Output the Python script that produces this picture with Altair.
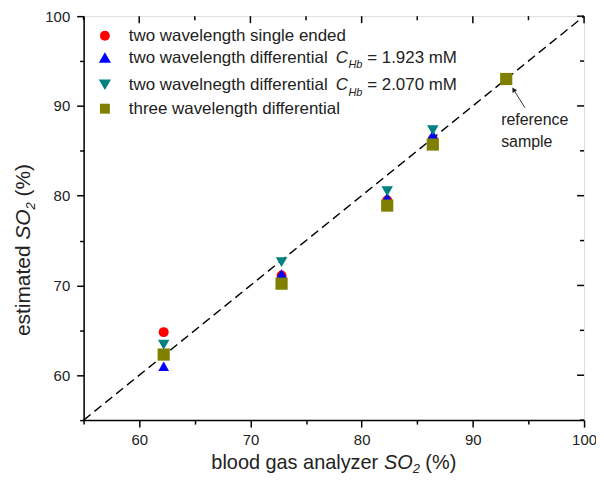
import altair as alt
import pandas as pd

# ---------------- data ----------------
blood_gas = [62.2, 72.8, 82.3, 86.4, 93.0]
single_ended = [64.8, 71.1, 79.5, 86.3, 93.0]
diff_1923 = [61.0, 71.3, 79.8, 86.8, 93.0]
diff_2070 = [63.4, 72.6, 80.5, 87.3, 93.0]
three_wl = [62.3, 70.2, 78.9, 85.7, 93.0]
series_names = ["single", "diff1923", "diff2070", "three"]
series_vals = [single_ended, diff_1923, diff_2070, three_wl]
colors = ["#ff0000", "#0000ff", "#008080", "#808000"]
shapes = ["circle", "triangle-up", "triangle-down", "square"]
sizes = [100, 150, 150, 100]
tick_values = list(range(55, 101, 5))
major_ticks = [v for v in tick_values if v % 10 == 0]
minor_ticks = [v for v in tick_values if v % 10 != 0]
identity = [55, 100]

W, H = 503, 406
SX = W / 507.0
TOP = 7
FONT = "Liberation Sans"
TXT = "#222222"

# Arial / Liberation Sans advance widths (per 1000 em)
AW = {" ": 278, "=": 584, ".": 278, "(": 333, ")": 333, "%": 889,
      "C": 722, "H": 722, "S": 667, "O": 778, "M": 833,
      "a": 556, "b": 556, "c": 500, "d": 556, "e": 556, "f": 278, "g": 556,
      "h": 556, "i": 222, "j": 222, "k": 500, "l": 222, "m": 833, "n": 556,
      "o": 556, "p": 556, "q": 556, "r": 333, "s": 500, "t": 278, "u": 556,
      "v": 500, "w": 722, "x": 500, "y": 500, "z": 500}
for d in "0123456789":
    AW[d] = 556


def tw(s, size):
    return sum(AW.get(ch, 556) for ch in s) * size / 1000.0


rows = []
for name, vals in zip(series_names, series_vals):
    for xv, yv in zip(blood_gas, vals):
        rows.append({"x": xv, "y": yv, "series": name})
pts = pd.DataFrame(rows)

xscale = alt.Scale(domain=[55, 100], nice=False, zero=False)
yscale = alt.Scale(domain=[55, 100], nice=False, zero=False)
tick_size = {"condition": {"test": "datum.value % 10 == 0", "value": 7}, "value": 4}
common_axis = dict(values=tick_values,
                   labelExpr="datum.value % 10 == 0 ? datum.label : ''",
                   title=None, grid=False, tickSize=tick_size, tickColor="black",
                   tickWidth=1.5, domainColor="black", domainWidth=1.5,
                   labelFont=FONT, labelFontSize=15, labelColor=TXT,
                   labelFlush=False, labelOverlap=False)
xaxis = alt.Axis(labelPadding=6, **common_axis)
yaxis = alt.Axis(labelPadding=7, **common_axis)


def X(f):
    return alt.X(f, type="quantitative", scale=xscale, axis=xaxis)


def Y(f):
    return alt.Y(f, type="quantitative", scale=yscale, axis=yaxis)


one = pd.DataFrame({"t": [""]})


def txt(s, px, py, size, italic=False, angle=0):
    return alt.Chart(pd.DataFrame({"t": [s]})).mark_text(
        align="left", baseline="middle", font=FONT, fontSize=size,
        fontStyle="italic" if italic else "normal", angle=angle, color=TXT
    ).encode(x=alt.value(px), y=alt.value(py), text="t:N")


layers = []

# identity line
layers.append(alt.Chart(pd.DataFrame({"v": identity})).mark_line(
    color="black", strokeDash=[9, 5], strokeWidth=1.4).encode(x=X("v"), y=Y("v")))

# data points
layers.append(alt.Chart(pts).mark_point(filled=True, opacity=1).encode(
    x=X("x"), y=Y("y"),
    color=alt.Color("series:N", scale=alt.Scale(domain=series_names, range=colors), legend=None),
    shape=alt.Shape("series:N", scale=alt.Scale(domain=series_names, range=shapes), legend=None),
    size=alt.Size("series:N", scale=alt.Scale(domain=series_names, range=sizes), legend=None),
))

# mirrored inward ticks on top and right
for vals, ln in ((major_ticks, 7), (minor_ticks, 4)):
    d = pd.DataFrame({"v": vals})
    layers.append(alt.Chart(d).mark_rule(color="black", strokeWidth=1.5).encode(
        x=X("v"), y=alt.value(0), y2=alt.value(ln)))
    layers.append(alt.Chart(d).mark_rule(color="black", strokeWidth=1.5).encode(
        y=Y("v"), x=alt.value(W), x2=alt.value(W - ln)))

# ---------------- legend (manual, for sub-scripts) ----------------
LX_SYM, LX_TXT, LFS, SFS = 21.4, 45.4, 17, 11
leg_y = [v - (TOP - 5) for v in [21.7, 43.6, 71.0, 95.0]]
for i in range(4):
    layers.append(alt.Chart(one).mark_point(
        shape=shapes[i], filled=True, opacity=1, size=sizes[i], color=colors[i]
    ).encode(x=alt.value(LX_SYM), y=alt.value(leg_y[i])))

layers.append(txt("two wavelength single ended", LX_TXT, leg_y[0], LFS))
for i, (base, conc) in enumerate([("two wavelength differential", "= 1.923 mM"),
                                  ("two wavelnegth differential", "= 2.070 mM")]):
    yy = leg_y[1 + i]
    x0 = LX_TXT
    layers.append(txt(base, x0, yy, LFS))
    xc = x0 + tw(base + " ", LFS) + 3
    layers.append(txt("C", xc, yy, LFS, italic=True))
    xs = xc + tw("C", LFS) + 0.5
    layers.append(txt("Hb", xs, yy + 8, SFS, italic=True))
    xe = xs + tw("Hb", SFS) + tw(" ", LFS)
    layers.append(txt(conc, xe, yy, LFS))
layers.append(txt("three wavelength differential", LX_TXT, leg_y[3], LFS))

# ---------------- annotation ----------------
dy = -(TOP - 5)
layers.append(txt("reference", 423 * SX, 106.7 + dy, 16))
layers.append(txt("sample", 423 * SX, 128.4 + dy, 16))
layers.append(alt.Chart(one).mark_rule(color="#333333", strokeWidth=1).encode(
    x=alt.value(447.1 * SX), y=alt.value(94.0 + dy),
    x2=alt.value(435.8 * SX), y2=alt.value(76.1 + dy)))
layers.append(alt.Chart(one).mark_point(
    shape="triangle-up", filled=True, opacity=1, size=30, color="#222222", angle=328
).encode(x=alt.value(435.6 * SX), y=alt.value(75.8 + dy)))

# ---------------- axis titles ----------------
TFS, TSUB = 20, 13
# x title
xt_parts_len = tw("blood gas analyzer SO", TFS) + tw("2", TSUB) + tw(" (%)", TFS)
x0 = W / 2 - xt_parts_len / 2
ty = 451.0 + dy
layers.append(txt("blood gas analyzer", x0, ty, TFS))
xso = x0 + tw("blood gas analyzer ", TFS)
layers.append(txt("SO", xso, ty, TFS, italic=True))
x2 = xso + tw("SO", TFS)
layers.append(txt("2", x2, ty + 6.5, TSUB, italic=True))
xp = x2 + tw("2", TSUB) + tw(" ", TFS)
layers.append(txt("(%)", xp, ty, TFS))

# y title (rotated)
YTFS = 21
yt_len = tw("estimated SO", YTFS) + tw("2", TSUB) + tw(" (%)", YTFS)
ycen = 237 + dy
y0 = ycen + yt_len / 2
tx = -60
layers.append(txt("estimated", tx, y0, YTFS, angle=270))
yso = y0 - tw("estimated ", YTFS)
layers.append(txt("SO", tx, yso, YTFS, italic=True, angle=270))
y2 = yso - tw("SO", YTFS)
layers.append(txt("2", tx + 7, y2, TSUB, italic=True, angle=270))
yp = y2 - tw("2", TSUB) - tw(" ", YTFS)
layers.append(txt("(%)", tx, yp, YTFS, angle=270))

chart = alt.layer(*layers).properties(
    width=W, height=H,
    autosize=alt.AutoSizeParams(type="none"),
    padding={"left": 76, "top": TOP, "right": 12, "bottom": 60},
).configure_view(stroke="black", strokeWidth=1.5).configure(background="white")

chart.save("out.html", embed_options={"renderer": "svg", "actions": False})
